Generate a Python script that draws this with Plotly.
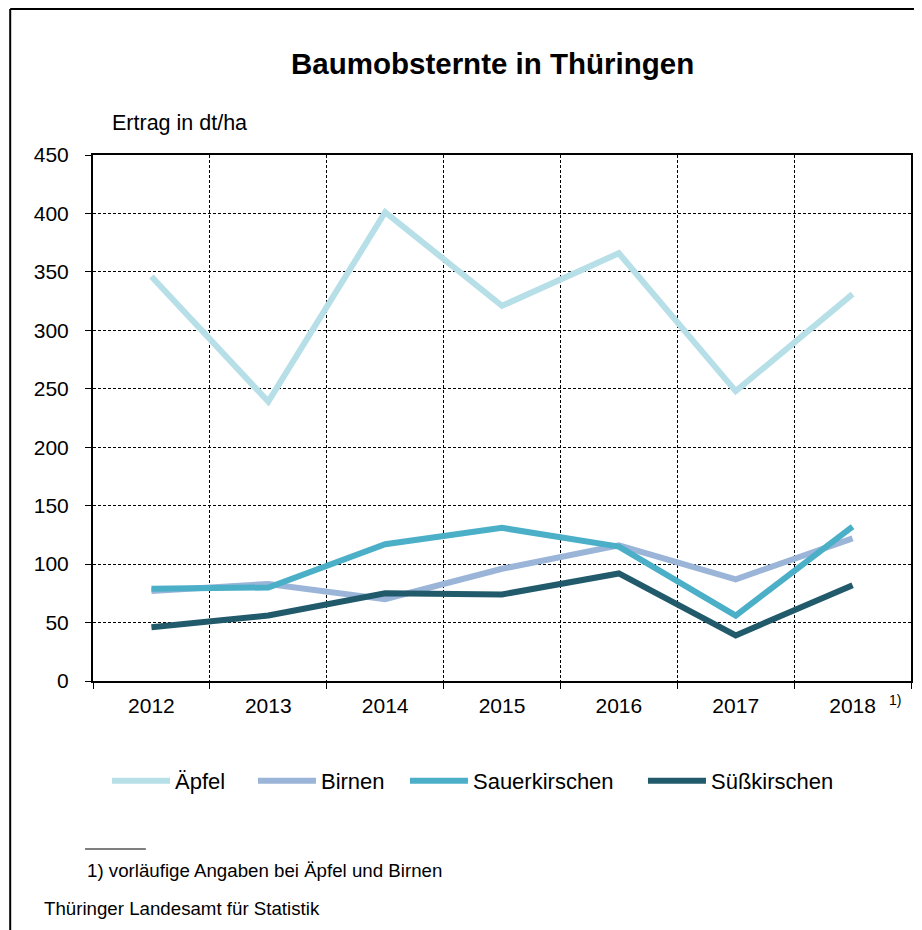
import plotly.graph_objects as go

years = ["2012", "2013", "2014", "2015", "2016", "2017", "2018"]
aepfel = [346, 239, 401, 321, 366, 248, 331]
birnen = [77, 83, 70, 96, 116, 87, 122]
sauerkirschen = [79, 80, 117, 131, 115, 56, 132]
suesskirschen = [46, 56, 75, 74, 92, 39, 82]

series = [
    ("Äpfel", aepfel, "#b7dfe8", 73),
    ("Birnen", birnen, "#9bb5d9", 79),
    ("Sauerkirschen", sauerkirschen, "#4bafc8", 165),
    ("Süßkirschen", suesskirschen, "#215a6b", 0),
]

FONT = "Liberation Sans, Arial, sans-serif"
OFF = 8  # page body margin

fig = go.Figure()
for name, vals, col, lw in series:
    kw = dict(legendwidth=lw) if lw else {}
    fig.add_trace(go.Scatter(
        x=years, y=vals, name=name, mode="lines",
        line=dict(color=col, width=6), **kw,
    ))

W, H = 922 - OFF, 930 - OFF
L, R, T, B = 93, 913, 155, 681  # in reference pixel coords


def px(x):
    return (x - L) / (R - L)


def py(y):
    return (B - y) / (B - T)


fig.update_layout(
    width=W, height=H,
    margin=dict(l=L - OFF, r=W - (R - OFF), t=T - OFF, b=H - (B - OFF), pad=0),
    paper_bgcolor="white", plot_bgcolor="white",
    font=dict(family=FONT, color="black", size=21),
    showlegend=True,
    legend=dict(
        orientation="h", x=px(107), xanchor="left", y=py(781), yanchor="middle",
        font=dict(size=22, family=FONT), itemwidth=58,
        bgcolor="rgba(0,0,0,0)",
    ),
    xaxis=dict(
        type="category", tickson="boundaries", showgrid=True,
        gridcolor="black", gridwidth=1, griddash="3px,2px",
        ticks="outside", ticklen=6, tickcolor="black", tickwidth=1,
        showline=True, linecolor="black", linewidth=2, mirror=True,
        tickfont=dict(size=21, family=FONT), range=[-0.5, 6.5],
        ticklabelstandoff=5,
    ),
    yaxis=dict(
        range=[0, 450], dtick=50, tick0=0, showgrid=True,
        gridcolor="black", gridwidth=1, griddash="3px,2px",
        ticks="outside", ticklen=6, tickcolor="black", tickwidth=1,
        showline=True, linecolor="black", linewidth=2, mirror=True,
        tickfont=dict(size=21, family=FONT), zeroline=False,
        ticklabelstandoff=12,
    ),
)

# frame (top and left edges)
fig.add_shape(type="line", xref="paper", yref="paper",
              x0=px(10), x1=px(930), y0=py(9), y1=py(9),
              line=dict(color="black", width=2))
fig.add_shape(type="line", xref="paper", yref="paper",
              x0=px(10), x1=px(10), y0=py(9), y1=py(940),
              line=dict(color="black", width=2))
# footnote rule
fig.add_shape(type="line", xref="paper", yref="paper",
              x0=px(85), x1=px(146), y0=py(849), y1=py(849),
              line=dict(color="black", width=1))

annos = [
    dict(text="<b>Baumobsternte in Thüringen</b>", x=px(493), y=py(63), size=29.5),
    dict(text="Ertrag in dt/ha", x=px(180), y=py(123), size=21.5),
    dict(text="1)", x=px(897), y=py(700), size=14),
]
for a in annos:
    fig.add_annotation(text=a["text"], x=a["x"], y=a["y"], xref="paper", yref="paper",
                       showarrow=False, xanchor="center", yanchor="middle",
                       font=dict(size=a["size"], family=FONT, color="black"))

fig.add_annotation(text="1) vorläufige Angaben bei Äpfel und Birnen", x=px(85), y=py(870),
                   xref="paper", yref="paper", showarrow=False, xanchor="left", yanchor="middle",
                   font=dict(size=18.7, family=FONT, color="black"))
fig.add_annotation(text="Thüringer Landesamt für Statistik", x=px(42), y=py(908),
                   xref="paper", yref="paper", showarrow=False, xanchor="left", yanchor="middle",
                   font=dict(size=18.7, family=FONT, color="black"))

fig.write_html("out.html")
